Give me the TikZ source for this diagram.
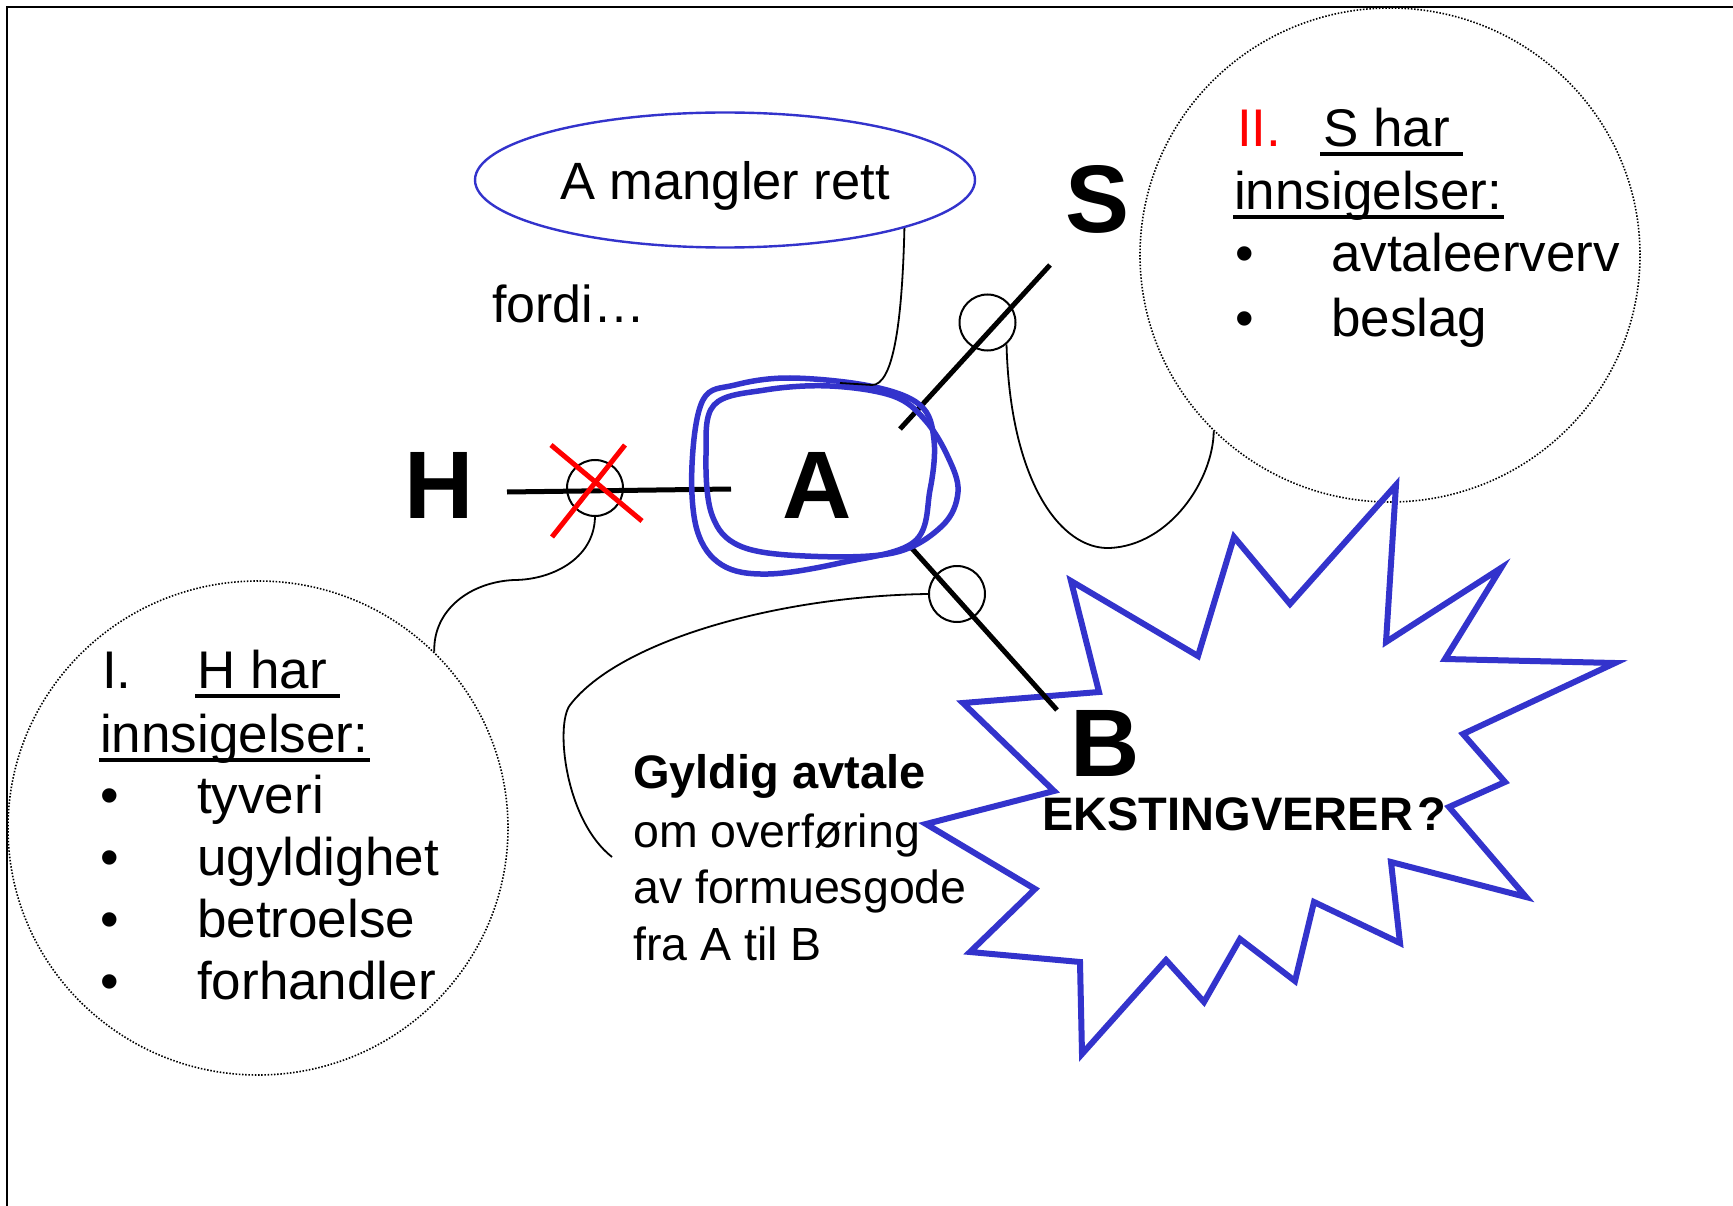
\documentclass[tikz,border=0pt]{standalone}
\usepackage{fontspec}
\setmainfont{Liberation Sans}
\usetikzlibrary{shapes.geometric}
\definecolor{loopblue}{RGB}{51,51,204}
\begin{document}
\begin{tikzpicture}[x=1pt,y=-1pt,
  big/.style={font=\fontsize{96}{96}\selectfont\bfseries, inner sep=0pt, anchor=base},
  txt/.style={font=\fontsize{53}{63}\selectfont, inner sep=0pt, anchor=base west},
  gtxt/.style={font=\fontsize{46.5}{57}\selectfont, inner sep=0pt, anchor=base west},
  smallc/.style={circle, draw, line width=2pt, minimum size=56pt, inner sep=0pt},
  bigcirc/.style={ellipse, draw, line width=1.6pt, dash pattern=on 1.5pt off 1.7pt, minimum width=500pt, minimum height=494pt, inner sep=0pt},
  conn/.style={line width=1.8pt},
  heavy/.style={line width=5pt},
  uline/.style={line width=3.2pt},
  blueloop/.style={draw=loopblue, line width=5.5pt},
]
\fill[white] (0,0) rectangle (1733,1206);
\useasboundingbox (0,0) rectangle (1733,1206);

% frame
\draw[line width=2.8pt] (7,1206) -- (7,7) -- (1733,7);

% top ellipse
\node[ellipse, draw=loopblue, line width=2.4pt, minimum width=500pt, minimum height=135pt, inner sep=0pt] (mangler) at (725,180) {};
\node[txt, anchor=base, font=\fontsize{52.5}{63}\selectfont] (manglertxt) at (725,200) {A mangler rett};
\node[txt, font=\fontsize{52}{63}\selectfont] (fordi) at (492,323) {fordi…};

% dotted circles
\node[bigcirc] (circS) at (1390,255) {};
\node[bigcirc] (circH) at (258,828) {};

% star
\draw[loopblue, line width=6pt, line join=miter] (963,703) -- (1099,692) -- (1071,581) -- (1198,656) -- (1234,537) -- (1290,604) -- (1396,485) -- (1386,642) -- (1501,568) -- (1445,659) -- (1615,663) -- (1463,734) -- (1505,782) -- (1449,807) -- (1526,897) -- (1391,862) -- (1400,943) -- (1314,902) -- (1295,981) -- (1240,939) -- (1204,1002) -- (1166,960) -- (1082,1054) -- (1080,962) -- (970,952) -- (1035,889) -- (926,824) -- (1054,791) -- cycle;

% big letters
\node[big] (H) at (439.5,518) {H};
\node[big] (A) at (817.5,518) {A};
\node[big] (S) at (1098,233) {S};
\node[big] (B) at (1105.5,776) {B};
\node[font=\fontsize{47}{47}\selectfont\bfseries, inner sep=0pt, anchor=base] (ekst) at (1244,830) {EKSTINGVERER\kern4pt?};

% heavy lines
\coordinate (hl1) at (507,492); \coordinate (hl2) at (731,489);
\coordinate (sl1) at (900,429); \coordinate (sl2) at (1050,265);
\coordinate (bl1) at (908,544); \coordinate (bl2) at (1057,710);
\draw[heavy] (hl1) -- (hl2);
\draw[heavy] (sl1) -- (sl2);
\draw[heavy] (bl1) -- (bl2);

% small circles
\node[smallc] (cH) at (595,488) {};
\node[smallc] (cS) at (987.5,322.5) {};
\node[smallc] (cB) at (957,594) {};

% red cross
\coordinate (x1a) at (551,445); \coordinate (x1b) at (642,521);
\coordinate (x2a) at (625,445); \coordinate (x2b) at (552,537);
\draw[red, line width=5pt] (x1a) -- (x1b);
\draw[red, line width=5pt] (x2a) -- (x2b);

% blue loops around A
\draw[blueloop] plot[smooth cycle, tension=0.6] coordinates {(703,400) (692,465) (697,530) (722,565) (768,574) (840,563) (914,542) (930,490) (934,440) (920,405) (870,386) (790,378) (735,385)};
\draw[blueloop] plot[smooth cycle, tension=0.6] coordinates {(714,405) (706,455) (712,515) (740,546) (805,556) (893,553) (942,526) (958,492) (948,457) (925,420) (893,396) (830,386) (765,390)};

% connectors
\coordinate (manglerend) at (840,383);
\coordinate (gyldigend) at (612,857);
\draw[conn] (mangler.-15) .. controls (902,330) and (892,385) .. (872,385) -- (manglerend);
\draw[conn] (cH.-90) .. controls (594,560) and (550,580) .. (514,580) .. controls (470,582) and (433,610) .. (circH.45);
\draw[conn] (cS.-49) .. controls (1010,480) and (1060,550) .. (1110,548) .. controls (1170,545) and (1213,480) .. (circS.-135);
\draw[conn] (cB.180) .. controls (780,596) and (620,640) .. (570,705) .. controls (555,725) and (565,820) .. (gyldigend);

% Gyldig avtale text
\node[gtxt, font=\fontsize{47}{57}\selectfont\bfseries] (g1) at (633,788) {Gyldig avtale};
\node[gtxt] (g2) at (633,847) {om overføring};
\node[gtxt] (g3) at (633,903) {av formuesgode};
\node[gtxt] (g4) at (633,960) {fra A til B};

% right circle text
\node[txt, text=red] (sII) at (1237,147) {II.};
\node[txt] (shar) at (1323,147) {S har};
\draw[uline] (1320,154) -- (1463,154);
\node[txt] (sinn) at (1234,210) {innsigelser:};
\draw[uline] (1233,217) -- (1504,217);
\node[txt] (sb1) at (1235,272) {•};
\node[txt] (savt) at (1331,272) {avtaleerverv};
\node[txt] (sb2) at (1235,337) {•};
\node[txt] (sbes) at (1331,337) {beslag};

% left circle text
\node[txt] (hI) at (102,688) {I.};
\node[txt] (hhar) at (197,688) {H har};
\draw[uline] (195,696) -- (340,696);
\node[txt] (hinn) at (100,752) {innsigelser:};
\draw[uline] (99,760) -- (370,760);
\node[txt] (hb1) at (100,813) {•};
\node[txt] (hty) at (197,813) {tyveri};
\node[txt] (hb2) at (100,875) {•};
\node[txt] (hug) at (197,875) {ugyldighet};
\node[txt] (hb3) at (100,937) {•};
\node[txt] (hbe) at (197,937) {betroelse};
\node[txt] (hb4) at (100,999) {•};
\node[txt] (hfo) at (197,999) {forhandler};
\end{tikzpicture}
\end{document}
